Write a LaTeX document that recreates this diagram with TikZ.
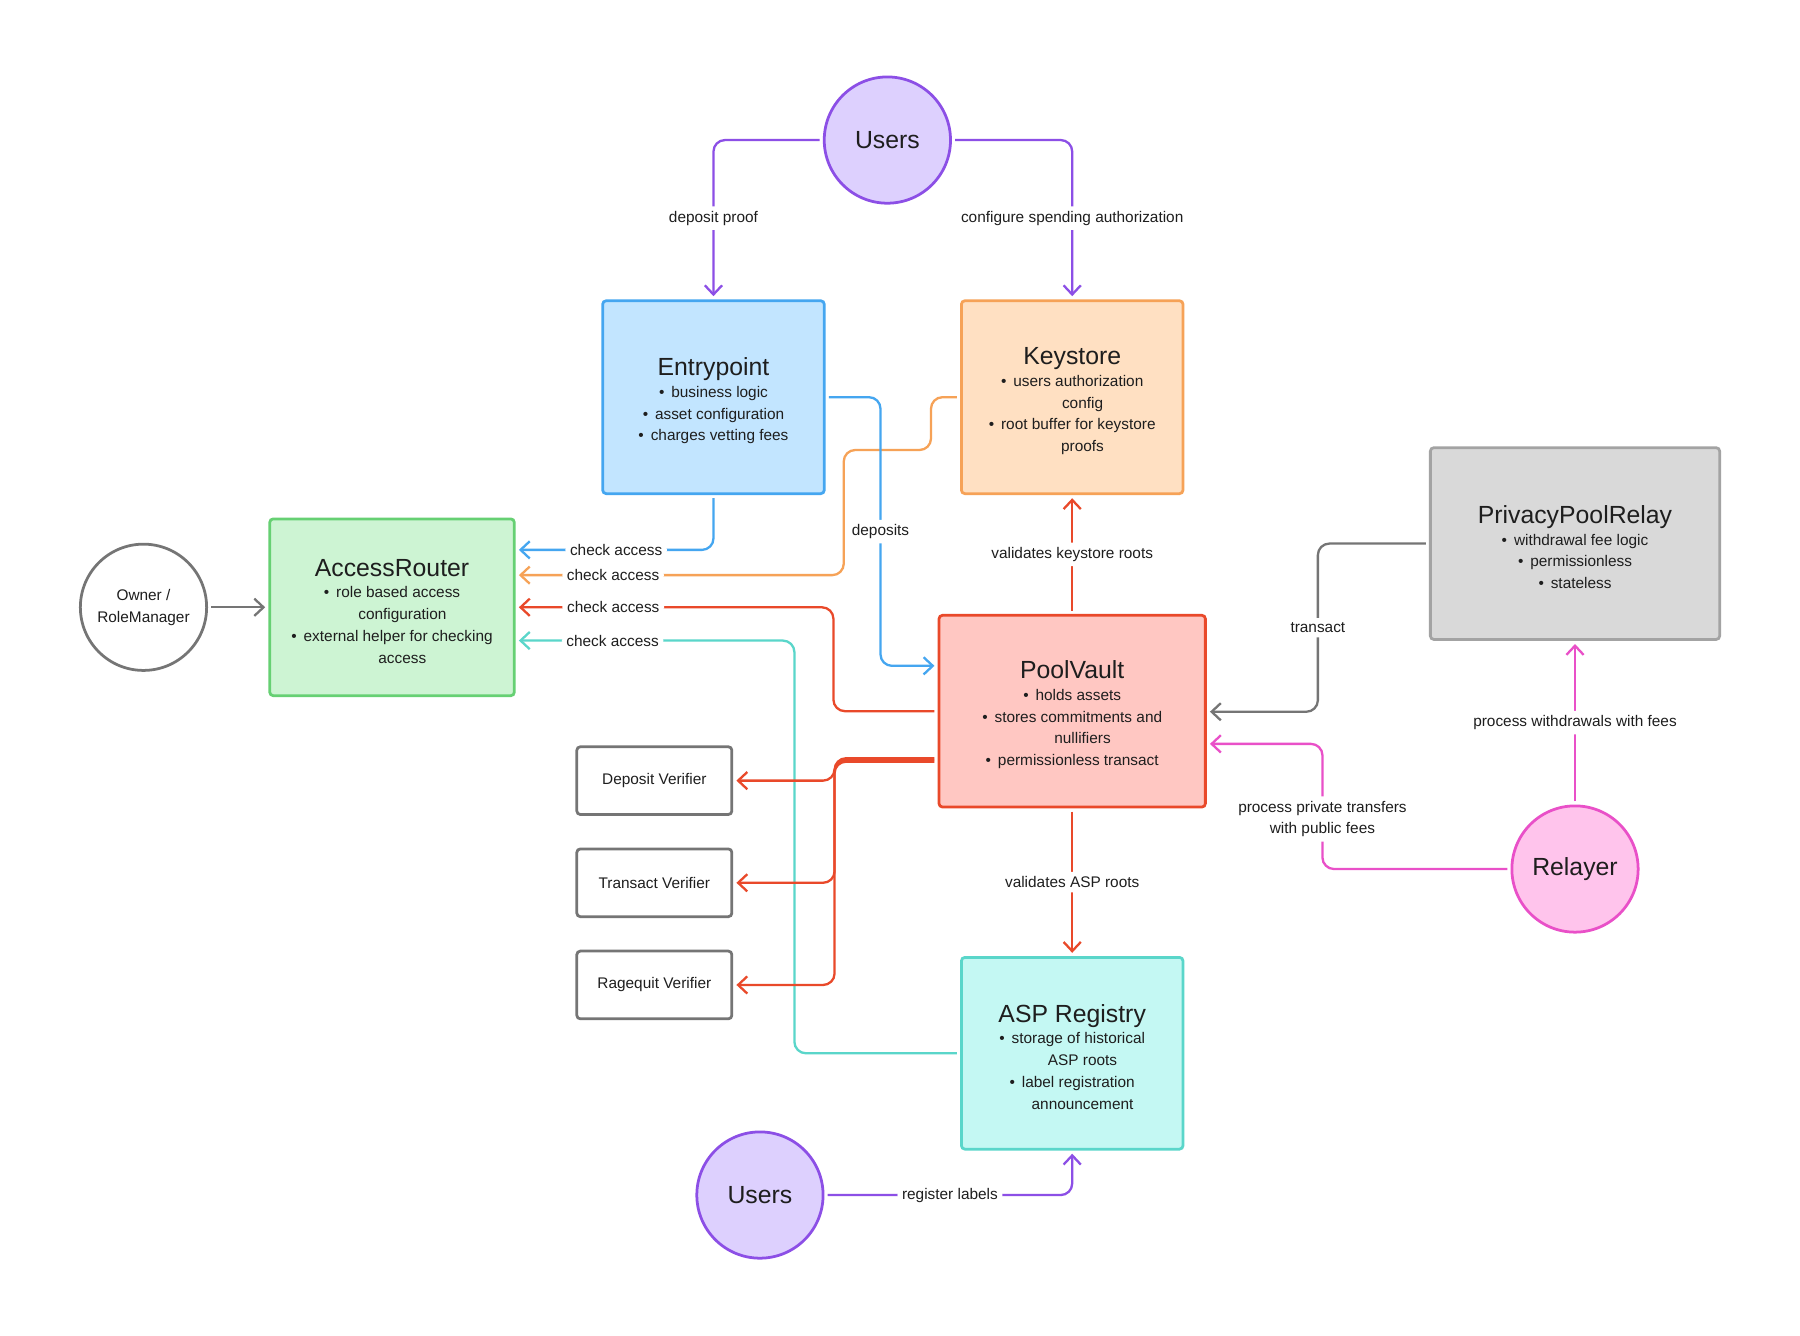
\documentclass[tikz,border=0pt]{standalone}
\usepackage{fontspec}
\setmainfont{Liberation Sans}
\usetikzlibrary{arrows.meta}
\definecolor{txt}{HTML}{1E1E1E}
\definecolor{purp}{HTML}{8C4FE6}
\definecolor{purpf}{HTML}{DDD0FE}
\definecolor{blu}{HTML}{45A6F0}
\definecolor{bluf}{HTML}{C2E5FF}
\definecolor{org}{HTML}{F6A257}
\definecolor{orgf}{HTML}{FFE0C2}
\definecolor{grn}{HTML}{66D073}
\definecolor{grnf}{HTML}{CDF4D3}
\definecolor{redl}{HTML}{E9492A}
\definecolor{redf}{HTML}{FFC7C2}
\definecolor{tel}{HTML}{5AD6CA}
\definecolor{telf}{HTML}{C4F8F3}
\definecolor{gryb}{HTML}{A3A3A3}
\definecolor{gryf}{HTML}{D9D9D9}
\definecolor{gryl}{HTML}{757575}
\definecolor{pnk}{HTML}{E950C8}
\definecolor{pnkf}{HTML}{FFC4EC}
\newcommand{\ttlfont}{\fontsize{10.8}{13}\selectfont}
\newcommand{\bodyf}{\fontsize{6.7}{9.5}\selectfont}
\newcommand{\contind}{\hspace*{9pt}}
\newcommand{\bul}{•\hspace{0.45em}}
\newcommand{\ttl}[1]{{\ttlfont\rule{0pt}{10.9pt}#1}\\}
\begin{document}
\begin{tikzpicture}[x=0.5pt,y=-0.5pt,
  box/.style={draw, rounded corners=1.5pt, line width=1.2pt, align=center, text=txt, font=\bodyf, inner sep=0pt, outer sep=2pt},
  circ/.style={circle, draw, line width=1.2pt, minimum size=55pt, inner sep=0pt, outer sep=2pt, text=txt, align=center},
  lbl/.style={fill=white, text=txt, font=\bodyf, inner sep=2pt, align=center},
  con/.style={line width=1pt, rounded corners=5pt, -{Straight Barb[length=4pt,width=7.5pt]}},
]
\useasboundingbox[fill=white] (0,0) rectangle (1568,1163);

% nodes
\node[circ, draw=purp, fill=purpf, font=\ttlfont] (utop) at (773,122) {Users};
\node[circ, draw=purp, fill=purpf, font=\ttlfont] (ubot) at (662,1041) {Users};
\node[circ, draw=pnk, fill=pnkf, font=\ttlfont] (relayer) at (1372,757) {Relayer};
\node[circ, draw=gryl, fill=white, font=\bodyf] (owner) at (125,529) {Owner /\\RoleManager};

\node[box, draw=blu, fill=bluf, minimum width=96.5pt, minimum height=84pt] (entry) at (621.5,346)
  {\ttl{Entrypoint}\bul business logic\\\bul asset configuration\\\bul charges vetting fees};
\node[box, draw=org, fill=orgf, minimum width=96.5pt, minimum height=84pt] (key) at (934,346)
  {\ttl{Keystore}\bul users authorization\\\contind config\\\bul root buffer for keystore\\\contind proofs};
\node[box, draw=gryb, fill=gryf, minimum width=126pt, minimum height=83.5pt] (ppr) at (1372,473.5)
  {\ttl{PrivacyPoolRelay}\bul withdrawal fee logic\\\bul permissionless\\\bul stateless};
\node[box, draw=grn, fill=grnf, minimum width=106.5pt, minimum height=77pt] (access) at (341.5,529)
  {\ttl{AccessRouter}\bul role based access\\\contind configuration\\\bul external helper for checking\\\contind access};
\node[box, draw=redl, fill=redf, minimum width=116pt, minimum height=83.5pt] (pool) at (934,619.5)
  {\ttl{PoolVault}\bul holds assets\\\bul stores commitments and\\\contind nullifiers\\\bul permissionless transact};
\node[box, draw=tel, fill=telf, minimum width=96.5pt, minimum height=83.5pt] (asp) at (934,917.5)
  {\ttl{ASP Registry}\bul storage of historical\\\contind ASP roots\\\bul label registration\\\contind announcement};
\node[box, draw=gryl, fill=white, minimum width=67.5pt, minimum height=29.5pt] (dep) at (570,680) {Deposit Verifier};
\node[box, draw=gryl, fill=white, minimum width=67.5pt, minimum height=29.5pt] (tra) at (570,769) {Transact Verifier};
\node[box, draw=gryl, fill=white, minimum width=67.5pt, minimum height=29.5pt] (rag) at (570,858) {Ragequit Verifier};

% connectors
\draw[con, purp] (utop.west) -| node[lbl, pos=0.75]{deposit proof} (entry.north);
\draw[con, purp] (utop.east) -| node[lbl, pos=0.75]{configure spending authorization} (key.north);
\draw[con, purp] (ubot.east) -| node[lbl, pos=0.25]{register labels} (asp.south);

\draw[con, tel] (asp.west) -- (692,917.5) -- (692,558) -- node[lbl, pos=0.66]{check access} (access.east |- 0,558);
\draw[con, org] (key.west) -- (811,346) -- (811,392) -- (735,392) -- (735,501) -- node[lbl, pos=0.71]{check access} (access.east |- 0,501);
\draw[con, blu] (entry.east) -- (767,346) -- node[lbl]{deposits} (767,580) -- (pool.west |- 0,580);
\draw[con, blu] (entry.south) -- (621.5,479) -- node[lbl]{check access} (access.east |- 0,479);
\draw[con, redl] (pool.west) -- (726,619.5) -- (726,529) -- node[lbl, pos=0.7]{check access} (access.east);

\draw[con, redl] (pool.west |- 0,660.5) -- (727,660.5) -- (727,680) -- (dep.east);
\draw[con, redl] (pool.west |- 0,662) -- (727,662) -- (727,769) -- (tra.east);
\draw[con, redl] (pool.west |- 0,663.5) -- (727,663.5) -- (727,858) -- (rag.east);

\draw[con, redl] (pool.north) -- node[lbl]{validates keystore roots} (key.south);
\draw[con, redl] (pool.south) -- node[lbl]{validates ASP roots} (asp.north);

\draw[con, gryl] (ppr.west) -- (1148,473.5) -- node[lbl]{transact} (1148,620) -- (pool.east |- 0,620);
\draw[con, pnk] (relayer.west) -- (1152,757) -- node[lbl, pos=0.4]{process private transfers\\with public fees} (1152,648) -- (pool.east |- 0,648);
\draw[con, pnk] (relayer.north) -- node[lbl]{process withdrawals with fees} (ppr.south);
\draw[con, gryl] (owner.east) -- (access.west);
\end{tikzpicture}
\end{document}
